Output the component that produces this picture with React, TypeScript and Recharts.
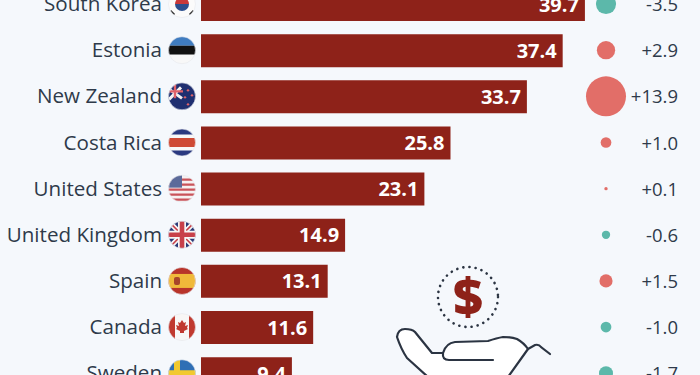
import { Bar, ComposedChart, LabelList, Scatter, XAxis, YAxis, ZAxis } from 'recharts';

const countries = ['South Korea', 'Estonia', 'New Zealand', 'Costa Rica', 'United States', 'United Kingdom', 'Spain', 'Canada', 'Sweden'];
const shares = [39.7, 37.4, 33.7, 25.8, 23.1, 14.9, 13.1, 11.6, 9.4];
const changes = [-3.5, 2.9, 13.9, 1.0, 0.1, -0.6, 1.5, -1.0, -1.7];

const BUBBLE_COLUMN = 41.88;
const FONT = '"Open Sans", sans-serif';
const INK = '#2e3a4a';

const rows = countries.map((country, i) => ({
    country,
    share: shares[i],
    change: changes[i],
    magnitude: Math.abs(changes[i]),
    column: BUBBLE_COLUMN,
}));

function Flag({ name, id }: { name: string; id: string }) {
    let art = null;
    if (name === 'South Korea') {
        art = (
            <>
                <rect x={-14} y={-14} width={28} height={28} fill="#fbfbfb" />
                <path d="M-7 0a7 7 0 0 1 14 0z" fill="#c8393a" />
                <path d="M-7 0a7 7 0 0 0 14 0z" fill="#2b4f8f" />
                <path d="M-12-7l4-4M8-11l4 4M-12 7l4 4M8 11l4-4" stroke="#222" strokeWidth={3} />
            </>
        );
    } else if (name === 'Estonia') {
        art = (
            <>
                <rect x={-14} y={-14} width={28} height={9.5} fill="#3f7cc0" />
                <rect x={-14} y={-4.5} width={28} height={9} fill="#111" />
                <rect x={-14} y={4.5} width={28} height={10} fill="#f8f8f8" />
            </>
        );
    } else if (name === 'New Zealand') {
        art = (
            <>
                <rect x={-14} y={-14} width={28} height={28} fill="#1f2f70" />
                <path d="M-14-8L0 2M-1-9L-13 3" stroke="#f3f0f0" strokeWidth={3} />
                <path d="M-7-12V2M-14-5H1" stroke="#e0626a" strokeWidth={2.4} />
                <circle cx={6} cy={-6} r={1.2} fill="#e0626a" />
                <circle cx={10} cy={-1} r={1.2} fill="#e0626a" />
                <circle cx={3} cy={1} r={1.2} fill="#e0626a" />
                <circle cx={6} cy={8} r={1.2} fill="#e0626a" />
            </>
        );
    } else if (name === 'Costa Rica') {
        art = (
            <>
                <rect x={-14} y={-14} width={28} height={28} fill="#f8f8f8" />
                <rect x={-14} y={-14} width={28} height={6} fill="#2b3a80" />
                <rect x={-14} y={8} width={28} height={6} fill="#2b3a80" />
                <rect x={-14} y={-4.5} width={28} height={9} fill="#cf4a35" />
            </>
        );
    } else if (name === 'United States') {
        art = (
            <>
                <rect x={-14} y={-14} width={28} height={28} fill="#f6f1f1" />
                <path d="M-14-9H14M-14-4H14M-14 1H14M-14 6H14M-14 11H14" stroke="#c9535a" strokeWidth={2.4} />
                <rect x={-14} y={-14} width={14} height={13} fill="#5b6a9a" />
            </>
        );
    } else if (name === 'United Kingdom') {
        art = (
            <>
                <rect x={-14} y={-14} width={28} height={28} fill="#2b3a78" />
                <path d="M-14-14L14 14M14-14L-14 14" stroke="#f6f6f6" strokeWidth={5} />
                <path d="M-14-14L14 14M14-14L-14 14" stroke="#c8404a" strokeWidth={1.6} />
                <path d="M0-14V14M-14 0H14" stroke="#f6f6f6" strokeWidth={8} />
                <path d="M0-14V14M-14 0H14" stroke="#c8404a" strokeWidth={4.6} />
            </>
        );
    } else if (name === 'Spain') {
        art = (
            <>
                <rect x={-14} y={-14} width={28} height={28} fill="#b8342a" />
                <rect x={-14} y={-7} width={28} height={14} fill="#f0b93a" />
                <rect x={-8} y={-4} width={6} height={8} rx={2} fill="#a8452a" />
            </>
        );
    } else if (name === 'Canada') {
        art = (
            <>
                <rect x={-14} y={-14} width={28} height={28} fill="#f8f6f5" />
                <rect x={-14} y={-14} width={7} height={28} fill="#c0392f" />
                <rect x={7} y={-14} width={7} height={28} fill="#c0392f" />
                <path d="M0-7l2 3 2-1-1 4 3-1-1 3 1 1-4 2v2h-4v-2l-4-2 1-1-1-3 3 1-1-4 2 1z" fill="#c0392f" />
            </>
        );
    } else {
        art = (
            <>
                <rect x={-14} y={-14} width={28} height={28} fill="#2f6fb5" />
                <path d="M-5-14V14M-14 0H14" stroke="#f2c92f" strokeWidth={6} />
            </>
        );
    }
    return (
        <g>
            <clipPath id={id}>
                <circle r={13.5} />
            </clipPath>
            <g clipPath={`url(#${id})`}>{art}</g>
            <circle r={13.5} fill="none" stroke="#e6e8ec" strokeWidth={0.6} />
        </g>
    );
}

function CountryTick({ x, y, payload, index }: any) {
    return (
        <g transform={`translate(${x},${y})`}>
            <text x={-31} y={0} dy={7} textAnchor="end" fontFamily={FONT} fontSize={20.6} fill={INK}>
                {payload.value}
            </text>
            <g transform="translate(-11,0)">
                <Flag name={payload.value} id={`flag-${index}`} />
            </g>
        </g>
    );
}

function ChangeBubble({ cx, cy, size, payload }: any) {
    const up = payload.change > 0;
    const label = `${up ? '+' : ''}${payload.change.toFixed(1)}`;
    return (
        <g>
            <circle cx={cx} cy={cy} r={Math.sqrt(size / Math.PI)} fill={up ? '#e26e68' : '#5cb8aa'} />
            <text x={cx + 72} y={cy} dy={7} textAnchor="end" fontFamily={FONT} fontSize={18.5} fill={INK}>
                {label}
            </text>
        </g>
    );
}

function HandIcon() {
    return (
        <svg width={700} height={375} style={{ position: 'absolute', left: 0, top: 0 }}>
            <circle cx={468} cy={297} r={30} fill="none" stroke="#2b3442" strokeWidth={2.6} strokeDasharray="0.1 6.1" strokeLinecap="round" />
            <text x={468} y={315} textAnchor="middle" fontFamily={FONT} fontWeight={800} fontSize={52} fill="#8e2219">
                $
            </text>
            <path
                d="M428 377L407 358Q401 349 397 337Q398 329 405 329Q412 329 415 332L432 353H443Q446 343 455 342L488 341Q497 338 503 337Q512 337 517 339Q524 343 528 349L508 377Z"
                fill="#fff"
                stroke="#2b3442"
                strokeWidth={2.2}
                strokeLinejoin="round"
            />
            <path d="M443 353Q442 360 449 360H493" fill="none" stroke="#2b3442" strokeWidth={2.2} strokeLinecap="round" />
            <path d="M528 349L535 345Q539 344 541 347L550 354" fill="none" stroke="#2b3442" strokeWidth={2.2} strokeLinecap="round" />
        </svg>
    );
}

export default function App() {
    return (
        <div style={{ position: 'fixed', left: 0, top: 0, width: 700, height: 375, overflow: 'hidden', background: '#f5f8fc' }}>
            <div style={{ position: 'absolute', left: 0, top: -19 }}>
                <ComposedChart width={700} height={415.3} data={rows} layout="vertical" margin={{ top: 0, right: 0, bottom: 0, left: 0 }}>
                    <XAxis xAxisId="share" type="number" dataKey="share" domain={[0, 51.6]} hide />
                    <XAxis xAxisId="bubble" type="number" dataKey="column" domain={[0, 51.6]} hide />
                    <YAxis type="category" dataKey="country" width={201} axisLine={false} tickLine={false} interval={0} tick={<CountryTick />} />
                    <ZAxis type="number" dataKey="magnitude" domain={[0, 13.9]} range={[0, 1257]} />
                    <Bar xAxisId="share" dataKey="share" barSize={33} fill="#8e2219" isAnimationActive={false}>
                        <LabelList
                            dataKey="share"
                            position="insideRight"
                            offset={6}
                            formatter={(v: any) => Number(v).toFixed(1)}
                            style={{ fontFamily: FONT, fontWeight: 700, fontSize: 20, fill: '#fff' }}
                        />
                    </Bar>
                    <Scatter xAxisId="bubble" dataKey="column" shape={<ChangeBubble />} isAnimationActive={false} />
                </ComposedChart>
            </div>
            <HandIcon />
        </div>
    );
}
